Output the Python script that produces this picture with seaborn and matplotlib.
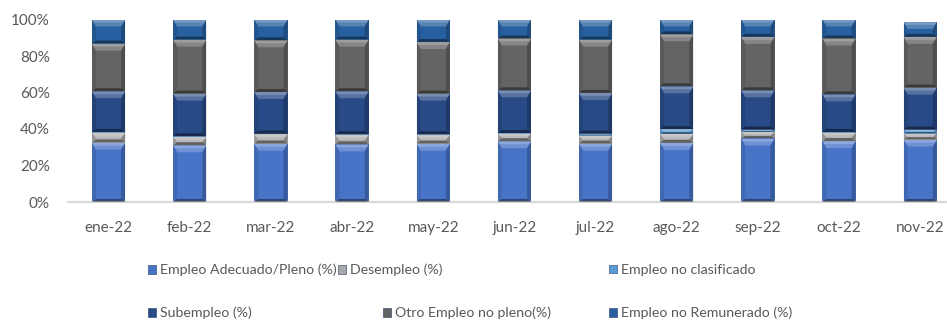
import matplotlib
matplotlib.use("Agg")
import matplotlib.pyplot as plt
from matplotlib.patches import Polygon, Patch
import pandas as pd
import seaborn as sns

# Labour market composition by month (% of the economically active population)
months = ["ene-22", "feb-22", "mar-22", "abr-22", "may-22", "jun-22",
          "jul-22", "ago-22", "sep-22", "oct-22", "nov-22"]
adecuado = [32.6, 31.1, 32.0, 31.6, 32.0, 33.3, 32.0, 32.4, 34.8, 33.4, 34.2]
desempleo = [5.4, 4.6, 5.2, 5.2, 4.7, 4.2, 4.4, 4.9, 3.6, 4.6, 3.3]
no_clasificado = [0.4, 0.3, 0.3, 0.3, 0.4, 0.3, 1.1, 2.6, 1.3, 0.4, 2.2]
subempleo = [22.3, 23.4, 22.8, 23.6, 22.3, 23.4, 22.3, 23.5, 21.5, 20.6, 23.0]
otro_no_pleno = [26.1, 29.6, 28.3, 28.3, 28.3, 28.4, 29.2, 28.5, 29.3, 30.6, 27.8]
no_remunerado = [13.2, 11.0, 11.4, 11.0, 12.3, 10.4, 11.0, 8.1, 9.5, 10.4, 8.2]

series_names = ["Empleo Adecuado/Pleno (%)", "Desempleo (%)", "Empleo no clasificado",
                "Subempleo (%)", "Otro Empleo no pleno(%)", "Empleo no Remunerado (%)"]
series_values = [adecuado, desempleo, no_clasificado, subempleo, otro_no_pleno, no_remunerado]
colors = ["#4874C8", "#A8A8A8", "#5B9BD5", "#284A86", "#646464", "#2760A0"]

y_ticks = [0, 20, 40, 60, 80, 100]
y_tick_labels = ["0%", "20%", "40%", "60%", "80%", "100%"]

sns.set_theme(style="white")
plt.rcParams["font.family"] = ["Lato", "DejaVu Sans"]
TEXT = "#595959"

W, H = 947, 322
fig = plt.figure(figsize=(W / 100, H / 100), dpi=100)
ax = fig.add_axes([68 / W, (H - 202) / H, (W - 68) / W, 182.5 / H])

df = pd.DataFrame({"mes": months})
for name, vals in zip(series_names, series_values):
    df[name] = vals
cum = df[series_names].cumsum(axis=1)
plot_df = pd.concat([df[["mes"]], cum], axis=1)

BAR_W = 0.41
# stacked bars: draw cumulative totals from the top series down
for name, color in reversed(list(zip(series_names, colors))):
    sns.barplot(data=plot_df, x="mes", y=name, color=color, saturation=1,
                width=BAR_W, errorbar=None, linewidth=0, ax=ax)

x_span = 10.83
ax.set_xlim(-0.5, -0.5 + x_span)
ax.set_ylim(0, 100)

# bevel shading on every segment, sized in screen pixels
px_x = x_span / ax.bbox.width
px_y = 100 / ax.bbox.height
centers = ax.get_xticks()
for j, name in enumerate(series_names):
    tops = cum[name].to_numpy()
    bots = tops - df[name].to_numpy()
    for c, bot, top in zip(centers, bots, tops):
        h = top - bot
        if h <= 0:
            continue
        l, r = c - BAR_W / 2, c + BAR_W / 2
        b = 4 * px_x
        t = min(7 * px_y, h * 0.6)
        t2 = min(3 * px_y, h * 0.3)
        bb = min(3 * px_y, h * 0.4)
        polys = [
            ([(l, top), (r, top), (r - b, top - t), (l + b, top - t)], "white", 0.22),
            ([(l, top), (r, top), (r - b * t2 / t, top - t2), (l + b * t2 / t, top - t2)], "white", 0.2),
            ([(l, bot), (l, top), (l + b, top - t), (l + b, bot + bb)], "black", 0.10),
            ([(r, bot), (r, top), (r - b, top - t), (r - b, bot + bb)], "black", 0.22),
            ([(l, bot), (r, bot), (r - b, bot + bb), (l + b, bot + bb)], "black", 0.42),
        ]
        for pts, fc, a in polys:
            ax.add_patch(Polygon(pts, closed=True, facecolor=fc, alpha=a,
                                 edgecolor="none", zorder=3))

for s in ["left", "right", "top"]:
    ax.spines[s].set_visible(False)
ax.spines["bottom"].set_color("#D9D9D9")
ax.spines["bottom"].set_linewidth(1.6)

ax.set_yticks(y_ticks, y_tick_labels)
ax.tick_params(axis="y", length=0, pad=13, labelsize=11, labelcolor=TEXT)
ax.tick_params(axis="x", length=0, pad=14, labelsize=11, labelcolor=TEXT)
ax.set_xlabel("")
ax.set_ylabel("")
ax.grid(False)

# legend entries laid out in two rows
legend_pos = [(148, 270), (338, 270), (609, 270),
              (148, 313), (383, 313), (609, 313)]
for (lx, ly), name, color in zip(legend_pos, series_names, colors):
    handle = Patch(facecolor=color, edgecolor="#1F3864", linewidth=0.4)
    fig.legend(handles=[handle], labels=[name], loc="center left",
               bbox_to_anchor=(lx / W, 1 - ly / H), frameon=False,
               borderpad=0, borderaxespad=0, handlelength=0.55, handleheight=0.55,
               handletextpad=0.3, fontsize=10.2, labelcolor=TEXT)

fig.savefig("out.png", dpi=100)
